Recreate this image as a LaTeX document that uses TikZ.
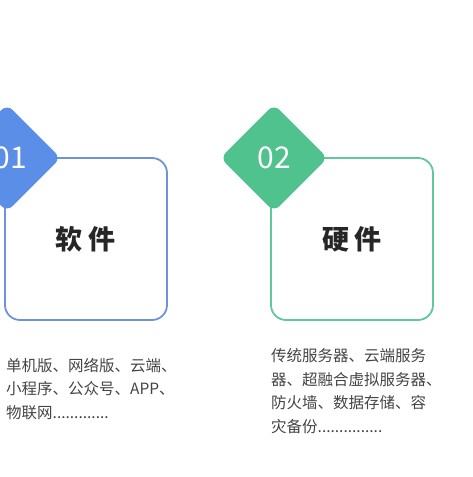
\documentclass[tikz,border=0pt]{standalone}
\usepackage{fontspec}
\newfontfamily\cjk{Noto Sans CJK SC}
\definecolor{blueA}{HTML}{5B8EE6}
\definecolor{blueB}{HTML}{6F93DB}
\definecolor{greenA}{HTML}{50C28E}
\definecolor{greenB}{HTML}{62C79B}
\definecolor{txt}{HTML}{444444}

\begin{document}
\begin{tikzpicture}[x=1pt,y=-1pt,card/.style={draw,line width=1.8pt,rounded corners=15pt,minimum width=162pt,minimum height=162pt,fill=white},badge/.style={rectangle,rounded corners=8pt,minimum size=76pt,rotate=45,inner sep=0pt},num/.style={text=white,font=\fontsize{30}{30}\selectfont\cjk},title/.style={text=black!85,font=\fontsize{27}{27}\selectfont\cjk\bfseries},desc/.style={text=txt,align=left,anchor=west,inner sep=0pt,font=\fontsize{15.5}{23.8}\selectfont\cjk}]
\def\cy{239};
\def\dy{158};
\useasboundingbox (0,0) rectangle (473,477);

% card 1
\node[card,draw=blueB] (box1) at (86,\cy) {};
\node[badge,fill=blueA] (dia1) at (7,\dy) {};
\node[num] (n1) at (10,\dy) {01};
\node[title] (t1) at (86,\cy) {软\hspace{6pt}件};
\node[desc] (d1) at (6,389) {单机版、网络版、云端、\\小程序、公众号、APP、\\物联网.............};

% card 2
\node[card,draw=greenB] (box2) at (352,\cy) {};
\node[badge,fill=greenA] (dia2) at (274,\dy) {};
\node[num] (n2) at (274,\dy) {02};
\node[title] (t2) at (352,\cy) {硬\hspace{6pt}件};
\node[desc] (d2) at (271,391) {传统服务器、云端服务\\器、超融合虚拟服务器、\\防火墙、数据存储、容\\灾备份...............};
\end{tikzpicture}
\end{document}
